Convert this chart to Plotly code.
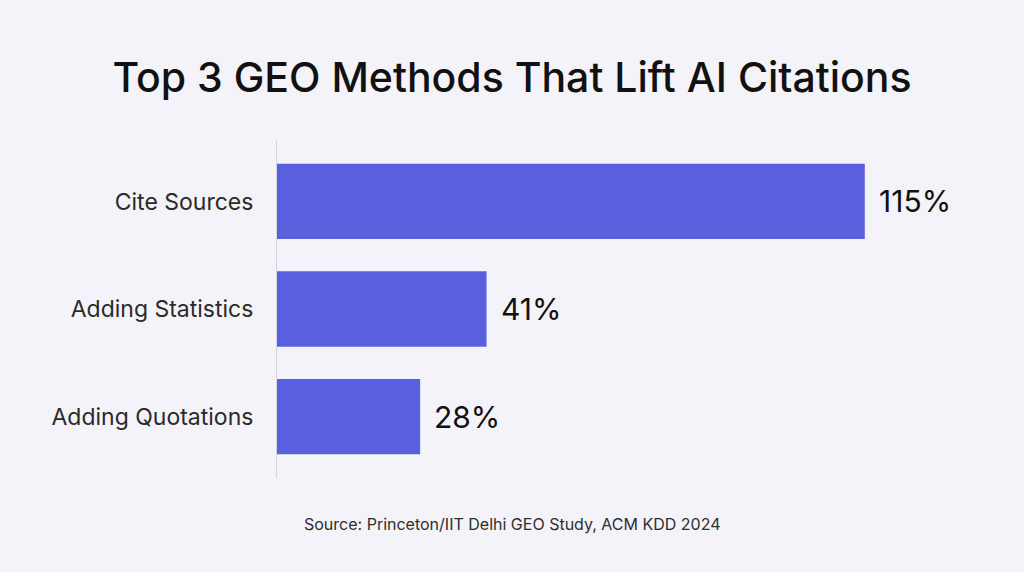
import plotly.graph_objects as go

methods = ["Cite Sources", "Adding Statistics", "Adding Quotations"]
lift_pct = [115, 41, 28]
lift_labels = [f"{v}%" for v in lift_pct]

BAR_COLOR = "#5A5FE0"
BG = "#F4F3F9"
FONT = "Inter"

fig = go.Figure()
fig.add_trace(go.Bar(
    x=lift_pct,
    y=methods,
    orientation="h",
    marker=dict(color=BAR_COLOR, line=dict(width=0)),
    width=0.7,
    hoverinfo="skip",
))

# value labels just past the bar ends
for m, v, lab in zip(methods, lift_pct, lift_labels):
    fig.add_annotation(x=v, y=m, text=lab, showarrow=False,
                       xanchor="left", xshift=12,
                       font=dict(family=FONT, size=30, color="#111111"))

# source line, centred on the whole page (plot area runs 277..967)
fig.add_annotation(text="Source: Princeton/IIT Delhi GEO Study, ACM KDD 2024",
                   xref="paper", yref="paper", x=(512 - 277) / 690, y=-0.136,
                   xanchor="center", yanchor="middle", showarrow=False,
                   font=dict(family=FONT, size=16, color="#2e2e2e"))

fig.update_layout(
    width=1024, height=572,
    paper_bgcolor=BG, plot_bgcolor=BG,
    margin=dict(l=277, r=57, t=140, b=94),
    title=dict(text="Top 3 GEO Methods That Lift AI Citations",
               x=0.5, xanchor="center", y=0.864, yanchor="middle",
               font=dict(family=FONT, size=41, color="#111111", weight=500)),
    showlegend=False,
    font=dict(family=FONT),
)
fig.update_xaxes(range=[0, 135], visible=False, showgrid=False, zeroline=False)
fig.update_yaxes(autorange=False, range=[2.572, -0.572],
                 showline=True, linecolor="#D6D5DE", linewidth=1,
                 showgrid=False, zeroline=False,
                 ticks="", ticklabelstandoff=18,
                 tickfont=dict(family=FONT, size=23, color="#2a2a2a"))

fig.write_html("out.html",
               config={"displayModeBar": False},
               post_script="document.body.style.margin='0';"
                           "document.body.style.background='#F4F3F9';")
